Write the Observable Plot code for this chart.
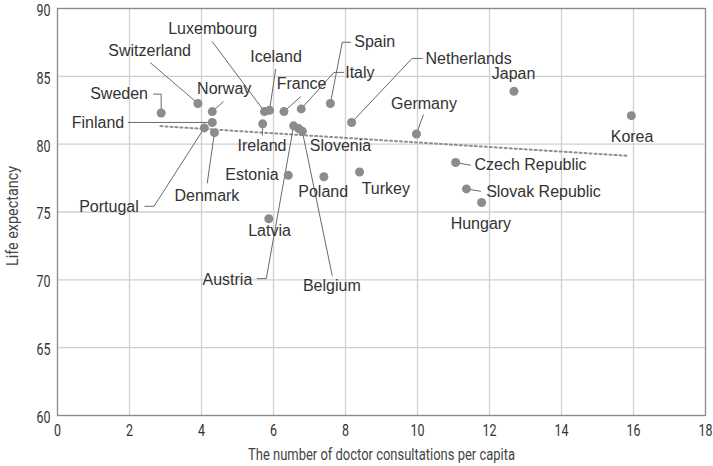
<!DOCTYPE html>
<html><head><meta charset="utf-8">
<script src="https://cdn.jsdelivr.net/npm/d3@7"></script>
<script src="https://cdn.jsdelivr.net/npm/@observablehq/plot@0.6"></script>
<style>
html,body{margin:0;padding:0;background:#fff;}
</style></head><body><div id="chart"></div>
<script>
const countries = ["Sweden","Switzerland","Norway","Finland","Portugal","Denmark","Luxembourg","Iceland","France","Italy","Spain","Ireland","Austria","Slovenia","Belgium","Netherlands","Germany","Japan","Korea","Estonia","Poland","Turkey","Latvia","Czech Republic","Slovak Republic","Hungary"];
const consultations = [2.88,3.9,4.3,4.3,4.08,4.36,5.75,5.89,6.29,6.77,7.58,5.7,6.56,6.7,6.8,8.17,9.97,12.68,15.94,6.41,7.4,8.39,5.87,11.06,11.36,11.78];
const lifeExpectancy = [82.3,83.0,82.4,81.6,81.2,80.85,82.4,82.5,82.4,82.6,83.0,81.5,81.35,81.15,80.95,81.6,80.75,83.9,82.1,77.7,77.6,77.95,74.5,78.65,76.7,75.7];
// label anchor points (data units)
const labelX = [1.71,2.56,4.63,1.125,1.43,4.15,4.31,6.07,6.78,8.40,8.81,5.68,4.72,7.86,7.62,11.42,10.18,12.67,15.96,5.40,7.38,9.12,5.89,13.14,13.5,11.76];
const labelY = [83.74,86.89,84.04,81.57,75.37,76.16,88.49,86.40,84.41,85.29,87.51,79.87,70.01,79.87,69.54,86.32,82.95,85.17,80.54,77.76,76.48,76.73,73.58,78.45,76.48,74.15];
// leader line bends, from label side toward the point (data units)
const leaderCountries = ["Sweden","Switzerland","Norway","Finland","Portugal","Denmark","Luxembourg","Iceland","France","Italy","Spain","Ireland","Austria","Belgium","Netherlands","Germany","Czech Republic","Slovak Republic"];
const leaderBends = [
  [[2.67,83.69],[2.88,83.69]],
  [[2.58,86.0]],
  [[4.60,83.12]],
  [[1.97,81.6]],
  [[2.43,75.42],[2.68,75.42]],
  [[4.16,77.14]],
  [[4.30,87.55]],
  [[6.06,85.51]],
  [[6.75,83.49]],
  [[7.95,85.29],[7.68,85.29]],
  [[8.14,87.51],[7.91,87.51]],
  [[5.69,80.66]],
  [[5.55,70.09],[5.80,70.09]],
  [[7.63,70.33]],
  [[10.13,86.32],[9.85,86.32]],
  [[10.16,82.14]],
  [[11.47,78.45]],
  [[11.75,76.53]]
];
const trendX = [2.86, 15.85];
const trendY = [81.33, 79.14];
const xTicks = [0,2,4,6,8,10,12,14,16,18];
const yTicks = [60,65,70,75,80,85,90];
const xTitle = "The number of doctor consultations per capita";
const yTitle = "Life expectancy";

const points = countries.map((c,i)=>({country:c, x:consultations[i], y:lifeExpectancy[i], lx:labelX[i], ly:labelY[i]}));
const byName = new Map(points.map(p=>[p.country,p]));
const leaderRows = [];
leaderCountries.forEach((c,i)=>{
  leaderBends[i].forEach(([x,y])=>leaderRows.push({country:c,x,y}));
  const p = byName.get(c);
  leaderRows.push({country:c,x:p.x,y:p.y});
});
const trend = trendX.map((x,i)=>({x, y:trendY[i]}));

const axisFont = "'Roboto','Liberation Sans',sans-serif";
const chart = Plot.plot({
  width: 713, height: 466,
  marginLeft: 57, marginRight: 8, marginTop: 8, marginBottom: 51,
  style: {fontFamily: "'Liberation Sans', Arial, sans-serif", background: "#fff"},
  x: {domain: [0,18]},
  y: {domain: [60,90]},
  marks: [
    Plot.gridX(xTicks, {stroke: "#d0d0d0", strokeOpacity: 1, strokeWidth: 1.3}),
    Plot.gridY(yTicks, {stroke: "#d0d0d0", strokeOpacity: 1, strokeWidth: 1.3}),
    Plot.frame({stroke: "#8a8a8a", strokeWidth: 1.2}),
    Plot.axisX(xTicks, {tickSize: 0, tickPadding: 8, fontSize: 17, fill: "#333", fontFamily: axisFont, label: null}),
    Plot.axisY(yTicks, {tickSize: 0, tickPadding: 7, dy: 2, fontSize: 17, fill: "#333", fontFamily: axisFont, label: null}),
    Plot.text([yTitle], {frameAnchor: "left", textAnchor: "middle", lineAnchor: "middle", rotate: -90, dx: -45, dy: 4, fontSize: 16.5, fill: "#444", fontFamily: axisFont}),
    Plot.text([xTitle], {frameAnchor: "bottom", textAnchor: "middle", lineAnchor: "middle", dy: 39, fontSize: 16.5, fill: "#444", fontFamily: axisFont}),
    Plot.line(trend, {x: "x", y: "y", stroke: "#8f8f8f", strokeWidth: 2, strokeDasharray: "2,3"}),
    Plot.line(leaderRows, {x: "x", y: "y", z: "country", stroke: "#6a6a6a", strokeWidth: 1}),
    Plot.dot(points, {x: "x", y: "y", r: 4.5, fill: "#8c8c8c", stroke: "none"}),
    Plot.text(points, {x: "lx", y: "ly", text: "country", fontSize: 16, fill: "#333"})
  ]
});
document.getElementById("chart").appendChild(chart);
// condensed look for axis texts
const tickSet = new Set([...xTicks, ...yTicks].map(String));
d3.select(chart).selectAll("text").each(function(){
  const t = this.textContent.trim();
  let len = null;
  if (t === xTitle) len = 267;
  else if (t === yTitle) len = 100;
  else if (tickSet.has(t)) len = t.length * 7;
  if (len != null) {
    this.setAttribute("textLength", len);
    this.setAttribute("lengthAdjust", "spacingAndGlyphs");
  }
});
</script></body></html>
